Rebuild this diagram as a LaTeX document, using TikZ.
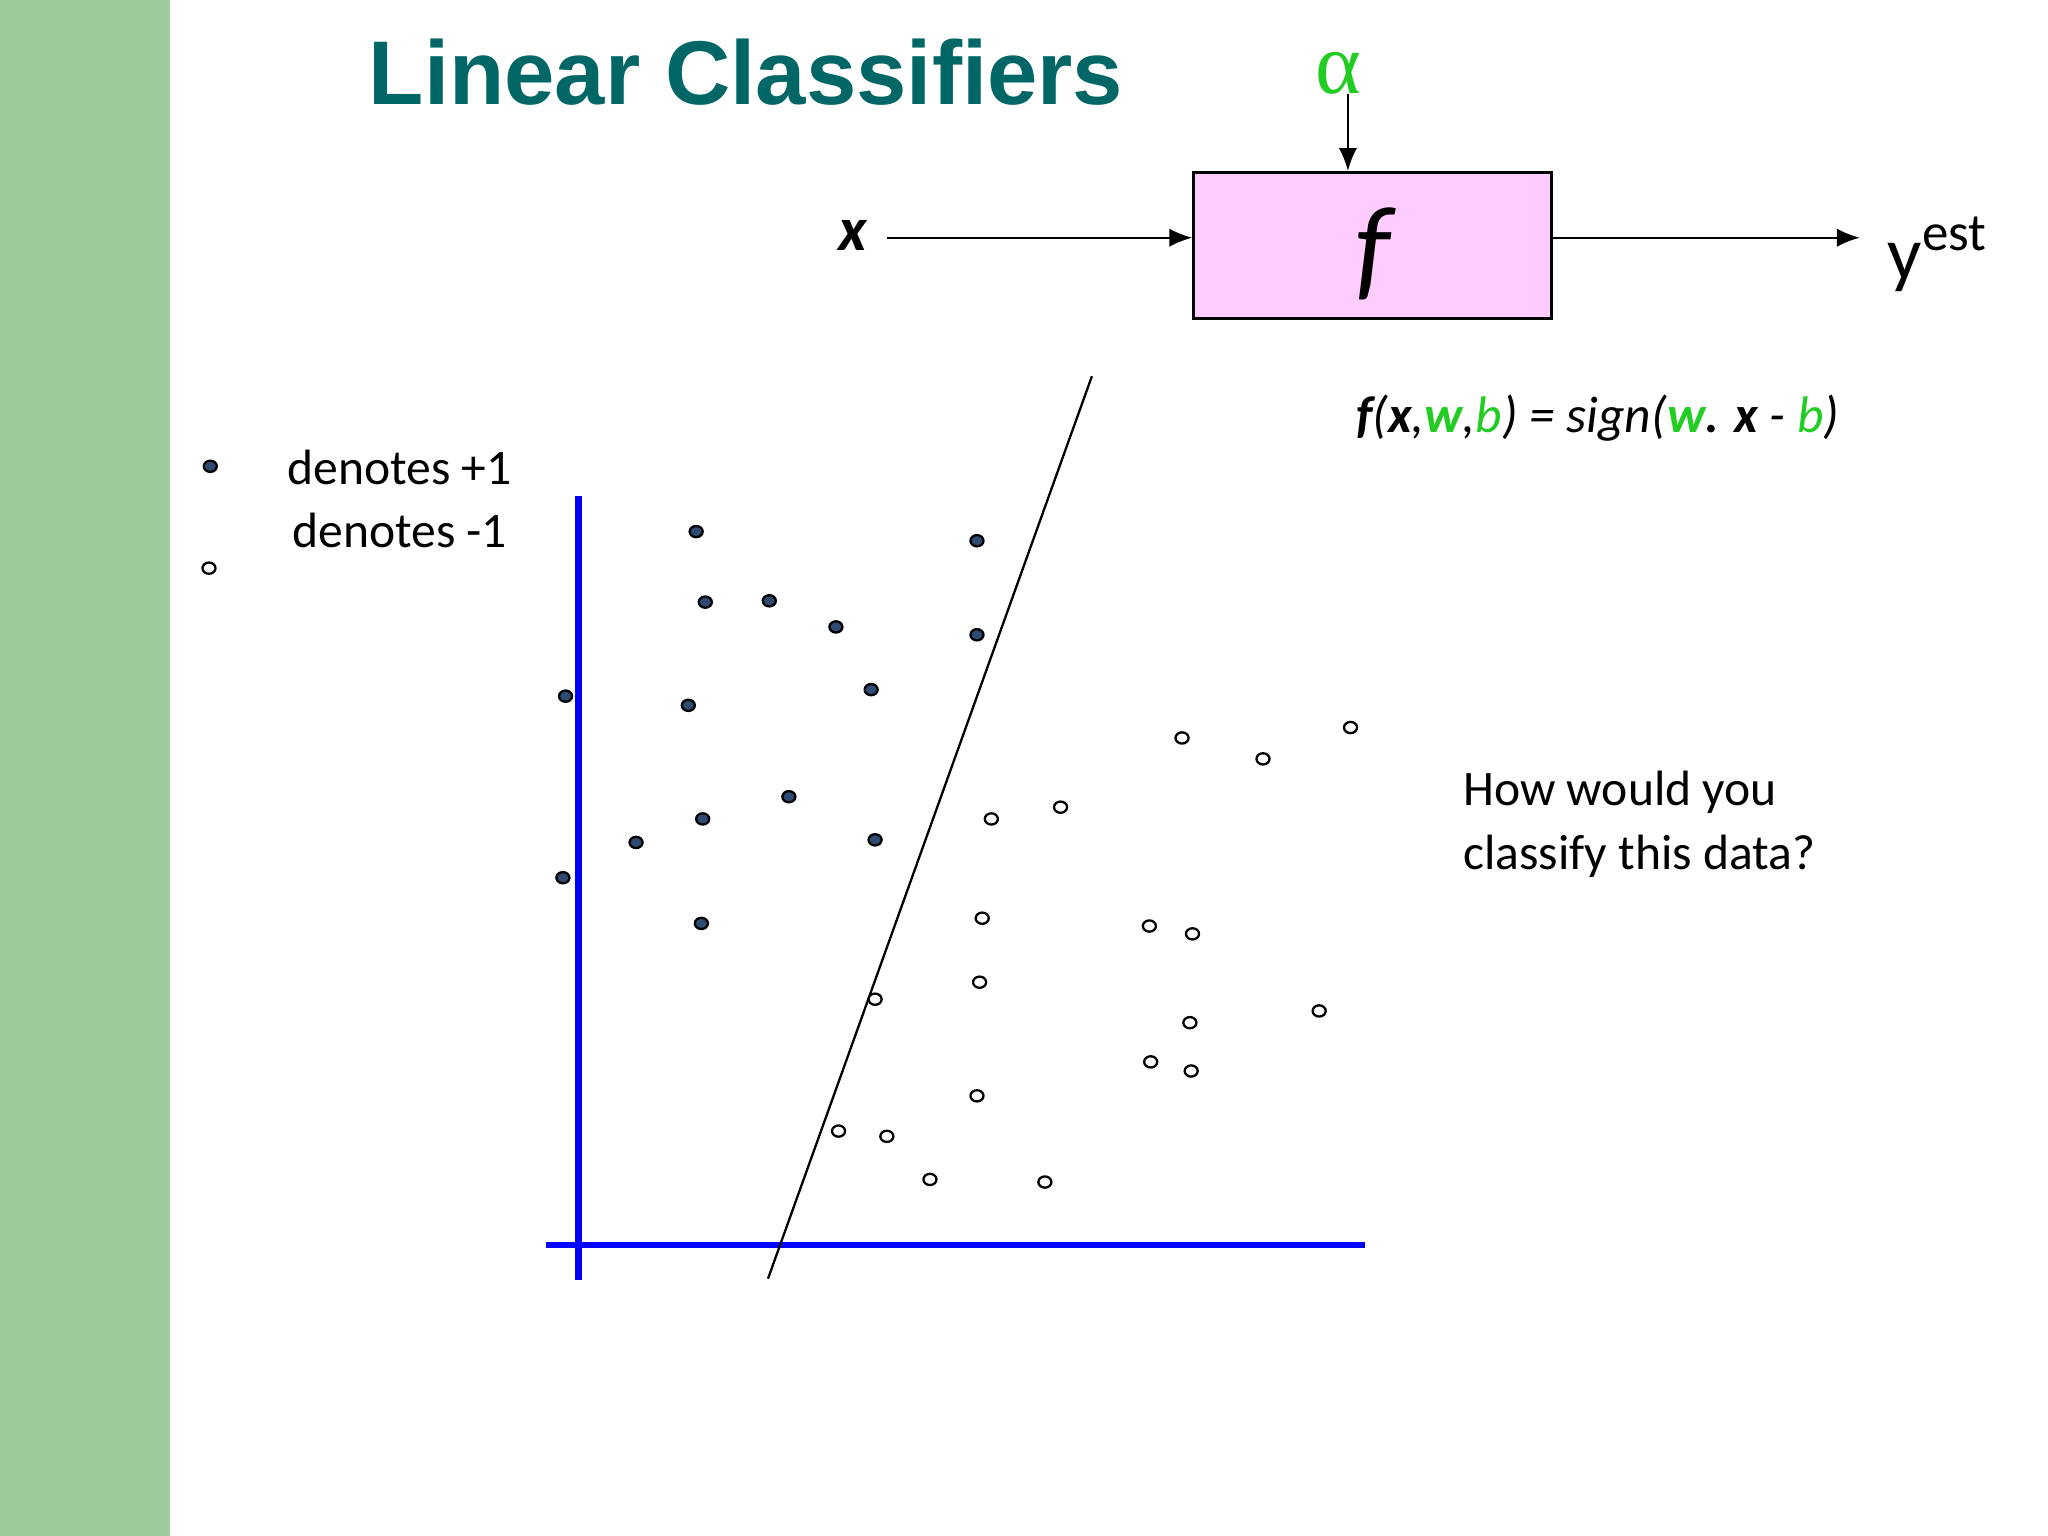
\documentclass[tikz,border=0pt]{standalone}
\usepackage{fontspec}
\setmainfont{Carlito}
\newfontfamily\titlefont{Liberation Sans}
\newfontfamily\symfont{Liberation Serif}
\usetikzlibrary{arrows.meta}
\definecolor{bar}{HTML}{9CCC9C}
\definecolor{teal}{HTML}{006666}
\definecolor{ptfill}{HTML}{2F4A73}
\definecolor{boxpink}{HTML}{FFCCFF}
\definecolor{grn}{HTML}{22CC22}
\begin{document}
\begin{tikzpicture}[x=0.01cm,y=-0.01cm,
  arr/.style={-{Latex[length=5pt,width=4pt]},line width=0.5pt},
  ax/.style={draw=blue,line width=1.4pt}]
\useasboundingbox (0,0) rectangle (1568,1176);
\fill[white] (0,0) rectangle (1568,1176);
\fill[bar] (0,0) rectangle (130,1176);
\node[anchor=west,text=teal,font=\titlefont\bfseries\fontsize{19.7}{22}\selectfont] (title) at (270,55) {Linear Classifiers};
% block
\node[draw=black,fill=boxpink,line width=0.6pt,minimum width=2.74cm,minimum height=1.12cm,inner sep=0pt] (f) at (1051,188) {};
\node[font=\itshape\fontsize{25}{28}\selectfont] (flab) at (1051,194) {f};
\node[font=\bfseries\itshape\fontsize{13.5}{15}\selectfont] (xin) at (653,180) {x};
\node[font=\fontsize{16.5}{18}\selectfont,anchor=west] (yout) at (1433,195) {y\textsuperscript{est}};
\node[text=grn,font=\symfont\fontsize{19}{22}\selectfont] (alpha) at (1025,56) {α};
\coordinate (xs) at (679,182);
\coordinate (ye) at (1424,182);
\coordinate (as) at (1032,72);
\draw[arr] (xs) -- (f.west |- xs);
\draw[arr] (f.east |- ye) -- (ye);
\draw[arr] (as) -- (f.north -| as);
% formula
\node[anchor=west,font=\itshape\fontsize{11.2}{13}\selectfont] (form) at (1026,320)
 {\textbf{f}(\textbf{x},\textcolor{grn}{\textbf{w}},\textcolor{grn}{b}) = sign(\textcolor{grn}{\textbf{w}}\textbf{. x} - \textcolor{grn}{b})};
% legend
\node[font=\fontsize{10.8}{13}\selectfont] (l1) at (306,358) {denotes +1};
\node[font=\fontsize{10.8}{13}\selectfont] (l2) at (306,406) {denotes -1};
\node[anchor=west,align=left,font=\fontsize{10.8}{13.8}\selectfont] (q) at (1108,631) {How would you\\classify this data?};
% axes
\coordinate (vt) at (443,380); \coordinate (vb) at (443,980);
\coordinate (hl) at (418,953); \coordinate (hr) at (1045,953);
\draw[ax] (vt) -- (vb);
\draw[ax] (hl) -- (hr);
\coordinate (lt) at (836,288); \coordinate (lb) at (588,979);
\draw[line width=0.5pt] (lt) -- (lb);
% points
\foreach \p in {(161,357),(533,407),(748,414),(540,461),(589,460),(640,480),(748,486),(667,528),(433,533),(527,540),(604,610),(538,627),(487,645),(670,643),(431,672),(537,707)}
  \draw[fill=ptfill,line width=0.5pt] \p ellipse [x radius=5, y radius=4.3];
\foreach \p in {(160,435),(905,565),(967,581),(1034,557),(759,627),(812,618),(752,703),(880,709),(913,715),(750,752),(670,765),(911,783),(1010,774),(881,813),(912,820),(748,839),(642,866),(679,870),(712,903),(800,905)}
  \draw[fill=white,line width=0.5pt] \p ellipse [x radius=5, y radius=4.3];
\end{tikzpicture}
\end{document}
